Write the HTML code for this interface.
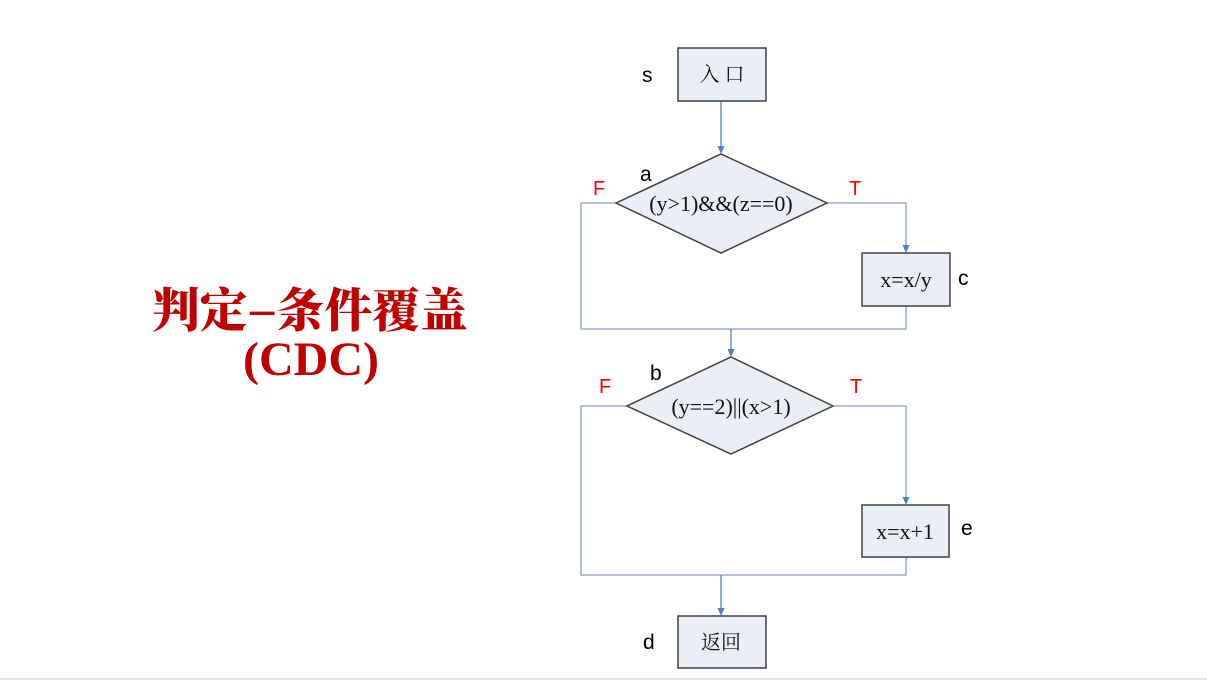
<!DOCTYPE html>
<html><head><meta charset="utf-8"><style>
html,body{margin:0;padding:0;background:#fff;}
svg{display:block;}
</style></head><body>
<svg width="1207" height="680" viewBox="0 0 1207 680" xmlns="http://www.w3.org/2000/svg">
<rect x="0" y="0" width="1207" height="680" fill="#fff"/>
<rect x="0" y="678" width="1207" height="2" fill="#e6e6e6"/>

<!-- Title -->
<text x="310" y="327" text-anchor="middle" font-family="'Noto Serif CJK SC','Noto Sans CJK SC',serif" font-weight="900" font-size="47" fill="#c00000" textLength="316" lengthAdjust="spacingAndGlyphs">判定–条件覆盖</text>
<text x="311" y="375" text-anchor="middle" font-family="'Liberation Serif',serif" font-weight="bold" font-size="48" fill="#c00000">(CDC)</text>

<g fill="none" stroke="#7f9fcf" stroke-width="1.3">
<line x1="721" y1="101" x2="721" y2="147" stroke="#4f81bd"/>
<polyline points="827,203 906,203 906,246"/>
<polyline points="616,203 581,203 581,329 906,329 906,306"/>
<line x1="731" y1="329" x2="731" y2="350" stroke="#4f81bd"/>
<polyline points="833,406 906,406 906,498"/>
<polyline points="627,406 581,406 581,575 906,575 906,557"/>
<line x1="721" y1="575" x2="721" y2="609" stroke="#4f81bd"/>
</g>
<g fill="#4f81bd">
<polygon points="717.5,146 724.5,146 721,154"/>
<polygon points="902.5,245 909.5,245 906,253"/>
<polygon points="727.5,349 734.5,349 731,357"/>
<polygon points="902.5,497 909.5,497 906,505"/>
<polygon points="717.5,608 724.5,608 721,616"/>
</g>

<g fill="#eaeef6" stroke="#404040" stroke-width="1.5">
<rect x="678" y="48" width="88" height="53"/>
<polygon points="721,154 827,203 721,253 616,203"/>
<rect x="862" y="253" width="88" height="53"/>
<polygon points="731,357 833,406 731,454 627,406"/>
<rect x="862" y="505" width="87" height="52"/>
<rect x="678" y="616" width="88" height="52"/>
</g>

<g font-family="'Liberation Serif','Noto Serif CJK SC',serif" font-size="22" fill="#111" text-anchor="middle">
<text x="722" y="81" font-size="20">入 口</text>
<text x="721" y="211">(y&gt;1)&amp;&amp;(z==0)</text>
<text x="906" y="287">x=x/y</text>
<text x="731" y="414">(y==2)||(x&gt;1)</text>
<text x="905" y="539">x=x+1</text>
<text x="721" y="649" font-size="20">返回</text>
</g>

<g font-family="'Liberation Sans',sans-serif" font-size="21" fill="#000">
<text x="642" y="82">s</text>
<text x="640" y="181">a</text>
<text x="958" y="285">c</text>
<text x="650" y="380">b</text>
<text x="961" y="535">e</text>
<text x="643" y="649">d</text>
</g>
<g font-family="'Liberation Sans',sans-serif" font-size="20" fill="#ff0000">
<text x="593" y="195">F</text>
<text x="849" y="195">T</text>
<text x="599" y="393">F</text>
<text x="850" y="393">T</text>
</g>
</svg>
</body></html>
